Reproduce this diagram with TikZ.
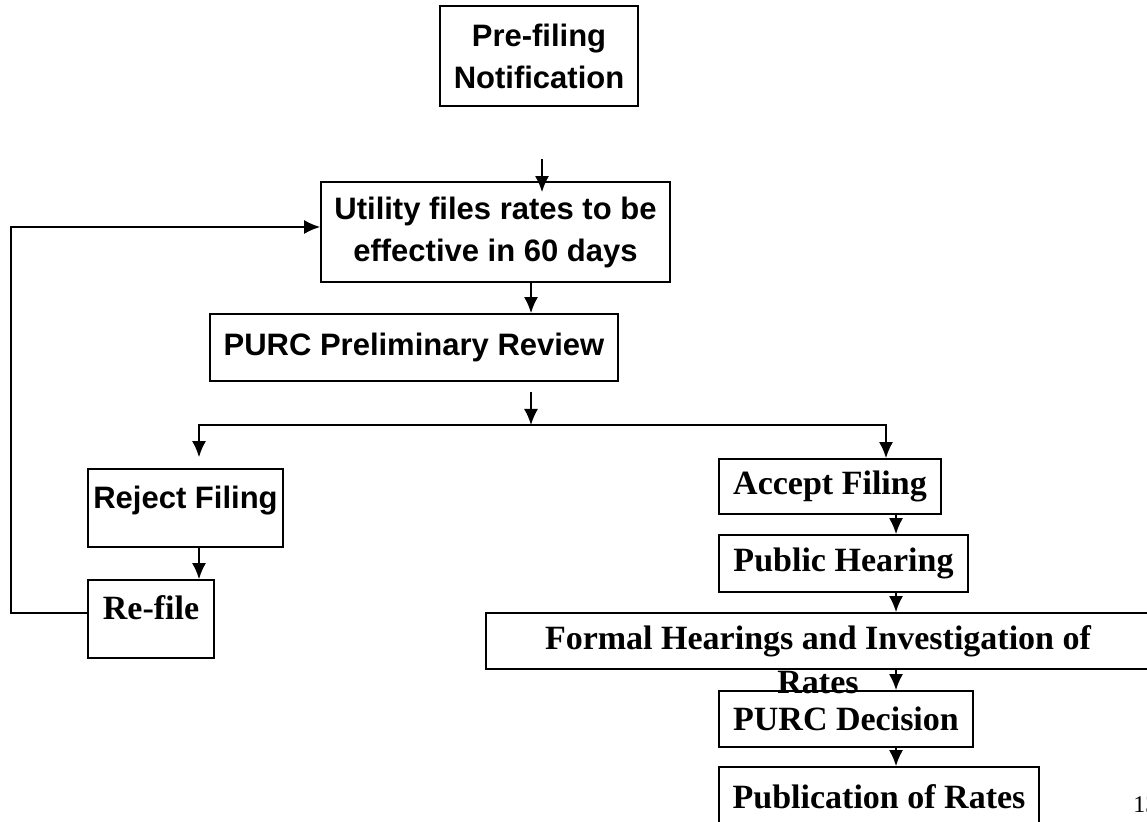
\documentclass[tikz,border=0pt]{standalone}
\usepackage{fontspec}
\setmainfont{Liberation Serif}
\setsansfont{Liberation Sans}
\usetikzlibrary{arrows.meta,positioning,calc}
\tikzset{
  sbox/.style={draw, line width=0.9pt, inner sep=0pt, align=center, font=\sffamily\bfseries\fontsize{15.5}{21}\selectfont},
  rbox/.style={draw, line width=0.9pt, inner sep=0pt, align=center, font=\bfseries\fontsize{17}{20}\selectfont},
  flow/.style={line width=0.8pt, -{Latex[length=8pt,width=7pt]}}
}

\begin{document}
\begin{tikzpicture}[x=0.5pt,y=-0.5pt]
  \useasboundingbox (0,0) rectangle (1147,822);
  %nodes
  \node[sbox, minimum width=99pt, minimum height=50pt] (prefile) at (539,56) {Pre-filing\\Notification};
  \node[sbox, minimum width=174.5pt, minimum height=50pt] (utility) at (495.5,232) {Utility files rates to be\\effective in 60 days};
  \node[sbox, minimum width=204pt, minimum height=33.5pt] (prelim) at (414,347.5) {PURC Preliminary Review};
  \node[sbox, minimum width=97.5pt, text height=20pt, text depth=19pt] (reject) at (185.5,508) {Reject Filing};
  \node[rbox, minimum width=63pt, text height=20pt, text depth=19pt] (refile) at (151,619) {Re-file};
  \node[rbox, minimum width=111pt, minimum height=27.5pt] (accept) at (830,486.5) {Accept Filing};
  \node[rbox, minimum width=124.5pt, minimum height=28.5pt] (hearing) at (843.5,563.5) {Public Hearing};
  \node[rbox, minimum width=332pt, minimum height=28pt,
        label={[rbox, draw=none, anchor=north]south:Rates}] (formal) at (818,641) {Formal Hearings and Investigation of};
  \node[rbox, minimum width=127pt, minimum height=28pt] (decision) at (846,719) {PURC Decision};
  \node[rbox, minimum width=160pt, minimum height=30pt] (publish) at (879,797) {Publication of Rates};
  \node[font=\fontsize{12}{14}\selectfont, anchor=west, inner sep=0pt] (page) at (1133,805) {13};
  %helper points
  \coordinate (top) at (542,159);
  \coordinate (colA) at (531,392);
  \coordinate (split) at (531,425);
  \coordinate (rejcol) at (199,0);
  \coordinate (acccol) at (886,0);
  \coordinate (colB) at (896,0);
  \coordinate (loop) at (11,227);
  %edges
  \draw[flow, shorten >=-5.5pt] (top) -- (utility.north -| top);
  \draw[flow] (utility.south -| colA) -- (prelim.north -| colA);
  \draw[flow] (colA) -- (split);
  \draw[flow, shorten >=5.5pt] (split) -| (reject.north -| rejcol);
  \draw[flow] (split) -| (accept.north -| acccol);
  \draw[flow] (reject.south -| rejcol) -- (refile.north -| rejcol);
  \draw[flow] (accept.south -| colB) -- (hearing.north -| colB);
  \draw[flow] (hearing.south -| colB) -- (formal.north -| colB);
  \draw[flow] (formal.south -| colB) -- (decision.north -| colB);
  \draw[flow] (decision.south -| colB) -- (publish.north -| colB);
  \draw[flow] ($(refile.west)+(0,3pt)$) -| (loop) -- (utility.west |- loop);
\end{tikzpicture}
\end{document}
